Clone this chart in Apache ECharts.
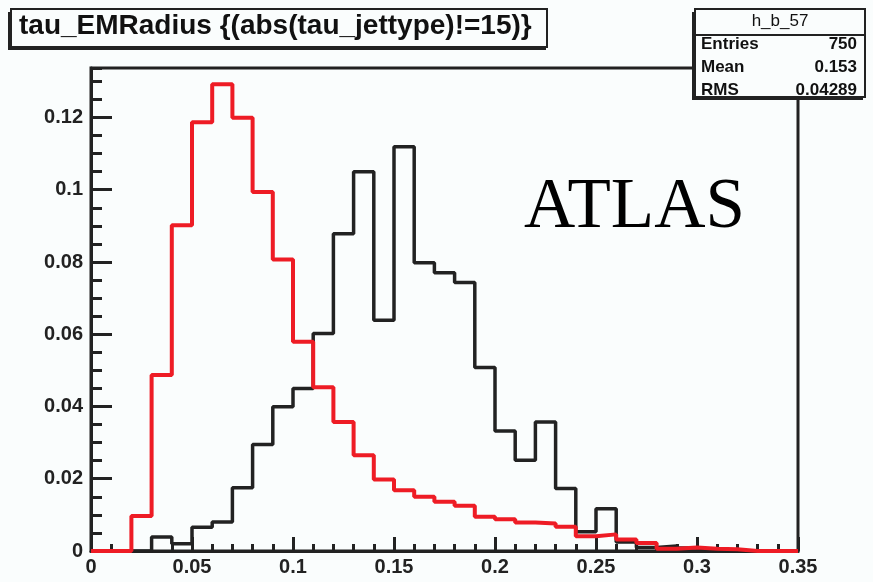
<!DOCTYPE html>
<html>
<head>
<meta charset="utf-8">
<script src="https://cdn.jsdelivr.net/npm/echarts@6/dist/echarts.min.js"></script>
<style>
html,body{margin:0;padding:0;background:#fafdfd;}
#chart{width:873px;height:582px;}
</style>
</head>
<body>
<div id="chart"></div>
<script>
// Bin edges of the histograms (35 bins of width 0.01)
const binEdges = [0,0.01,0.02,0.03,0.04,0.05,0.06,0.07,0.08,0.09,0.10,0.11,0.12,0.13,0.14,0.15,0.16,0.17,0.18,0.19,0.20,0.21,0.22,0.23,0.24,0.25,0.26,0.27,0.28,0.29,0.30,0.31,0.32,0.33,0.34,0.35];
// Black histogram (normalised contents per bin)
const blackValues = [0,0,0,0.0039,0.0020,0.0066,0.0080,0.0175,0.0295,0.0399,0.0450,0.0602,0.0878,0.1050,0.0639,0.1119,0.0798,0.0770,0.0743,0.0508,0.0332,0.0251,0.0357,0.0173,0.0053,0.0117,0.0025,0.0010,0.0014,0.0008,0.0003,0,0,0,0];
// Red histogram
const redValues = [0,0,0.0097,0.0487,0.0902,0.1187,0.1292,0.1199,0.0994,0.0807,0.0579,0.0453,0.0357,0.0265,0.0198,0.0168,0.0150,0.0136,0.0125,0.0095,0.0088,0.0079,0.0076,0.0067,0.0041,0.0046,0.0032,0.0022,0.0006,0.0010,0.0006,0.0005,0,0,0];
// Axis ranges / ticks
const xTicks = [0,0.05,0.1,0.15,0.2,0.25,0.3,0.35];
const yTicks = [0,0.02,0.04,0.06,0.08,0.1,0.12];
const xRange = [0, 0.35];
const yRange = [0, 0.1337];
// Texts
const titleText = 'tau_EMRadius {(abs(tau_jettype)!=15)}';
const statName = 'h_b_57';
const statLabels = ['Entries','Mean','RMS'];
const statValues = ['750','0.153','0.04289'];
const logoText = 'ATLAS';

function toSteps(vals){
  const d = vals.map((v,i)=>[binEdges[i], v]);
  d.push([binEdges[binEdges.length-1], vals[vals.length-1]]);
  return d;
}

const chart = echarts.init(document.getElementById('chart'), null, {renderer:'canvas'});
const BG = '#fafdfd';
const INK = '#222222';
const font = 'Liberation Sans, Arial, Helvetica, sans-serif';

const option = {
  backgroundColor: BG,
  animation: false,
  grid: {left:91, right:75, top:68, bottom:31, show:true, borderColor:INK, borderWidth:3, backgroundColor:'transparent'},
  xAxis: [{
    type:'value', min:xRange[0], max:xRange[1], interval:0.05,
    axisLine:{show:true, onZero:false, lineStyle:{color:INK, width:3}},
    axisTick:{show:true, inside:true, length:14, lineStyle:{color:INK, width:3}},
    minorTick:{show:true, splitNumber:5, length:7, lineStyle:{color:INK, width:3}},
    splitLine:{show:false},
    axisLabel:{show:true, margin:6, color:INK, fontFamily:font, fontWeight:'bold', fontSize:20,
      formatter:(v)=>{ const t = xTicks.find(x=>Math.abs(x-v)<1e-9); return t===undefined?'':String(t); }}
  }],
  yAxis: [{
    type:'value', min:yRange[0], max:yRange[1], interval:0.02,
    axisLine:{show:true, onZero:false, lineStyle:{color:INK, width:3}},
    axisTick:{show:true, inside:true, length:21, lineStyle:{color:INK, width:3}},
    splitLine:{show:false},
    axisLabel:{show:true, margin:8, color:INK, fontFamily:font, fontWeight:'bold', fontSize:20, showMaxLabel:false,
      formatter:(v)=>{ const t = yTicks.find(x=>Math.abs(x-v)<1e-9); return t===undefined?'':String(t); }}
  },{
    type:'value', min:yRange[0], max:yRange[1], interval:0.005, position:'left', offset:0,
    axisLine:{show:false},
    axisTick:{show:true, inside:true, length:11, lineStyle:{color:INK, width:3}},
    splitLine:{show:false},
    axisLabel:{show:false}
  }],
  series: [
    {type:'line', step:'end', data:toSteps(blackValues), symbol:'none', showSymbol:false,
     lineStyle:{color:INK, width:3.5}, itemStyle:{color:INK}, z:3, silent:true},
    {type:'line', step:'end', data:toSteps(redValues), symbol:'none', showSymbol:false,
     lineStyle:{color:'#ee1c25', width:4}, itemStyle:{color:'#ee1c25'}, z:4, silent:true}
  ],
  graphic: [
    // title box (shadow + box)
    {type:'rect', z:100, shape:{x:8, y:12, width:538, height:38}, style:{fill:INK}},
    {type:'rect', z:101, shape:{x:11, y:9, width:536, height:38}, style:{fill:BG, stroke:INK, lineWidth:2}},
    {type:'text', z:102, x:19, y:26, style:{text:titleText, fill:'#111', font:'bold 28px '+font, textAlign:'left', textVerticalAlign:'middle'}},
    // stats box
    {type:'rect', z:100, shape:{x:692, y:12, width:171, height:88}, style:{fill:INK}},
    {type:'rect', z:101, shape:{x:695, y:9, width:170, height:88}, style:{fill:BG, stroke:INK, lineWidth:2}},
    {type:'line', z:102, shape:{x1:695, y1:35, x2:865, y2:35}, style:{stroke:INK, lineWidth:2}},
    {type:'text', z:103, x:780, y:21, style:{text:statName, fill:'#111', font:'17px '+font, textAlign:'center', textVerticalAlign:'middle'}},
    {type:'text', z:102, x:701, y:44, style:{text:statLabels[0], fill:'#111', font:'bold 17px '+font, textAlign:'left', textVerticalAlign:'middle'}},
    {type:'text', z:102, x:857, y:44, style:{text:statValues[0], fill:'#111', font:'bold 17px '+font, textAlign:'right', textVerticalAlign:'middle'}},
    {type:'text', z:102, x:701, y:67, style:{text:statLabels[1], fill:'#111', font:'bold 17px '+font, textAlign:'left', textVerticalAlign:'middle'}},
    {type:'text', z:102, x:857, y:67, style:{text:statValues[1], fill:'#111', font:'bold 17px '+font, textAlign:'right', textVerticalAlign:'middle'}},
    {type:'text', z:102, x:701, y:90, style:{text:statLabels[2], fill:'#111', font:'bold 17px '+font, textAlign:'left', textVerticalAlign:'middle'}},
    {type:'text', z:102, x:857, y:90, style:{text:statValues[2], fill:'#111', font:'bold 17px '+font, textAlign:'right', textVerticalAlign:'middle'}},
    // ATLAS label
    {type:'text', z:50, x:524, y:208, style:{text:logoText, fill:'#000', font:'71px "Liberation Serif", "Times New Roman", serif', textAlign:'left', textVerticalAlign:'middle'}}
  ]
};
chart.setOption(option);
</script>
</body>
</html>
